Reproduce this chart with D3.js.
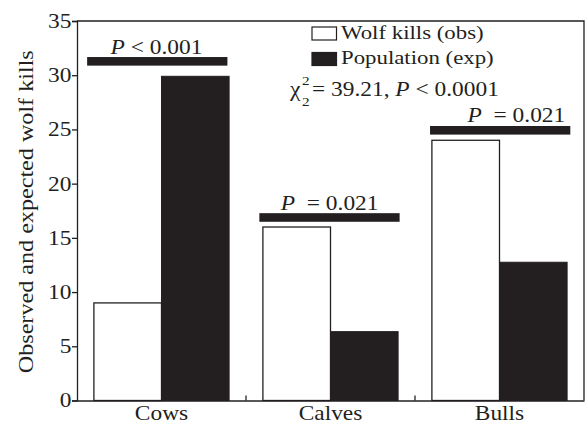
<!DOCTYPE html>
<html>
<head>
<meta charset="utf-8">
<script src="https://cdn.jsdelivr.net/npm/d3@7"></script>
<style>
  html, body { margin: 0; padding: 0; background: #fff; }
  svg { display: block; font-family: "Liberation Serif", "DejaVu Serif", serif; }
</style>
</head>
<body>
<svg id="chart" width="585" height="425"></svg>
<script>
// Prey classes and the two series
const categories = ["Cows", "Calves", "Bulls"];
const seriesNames = ["Wolf kills (obs)", "Population (exp)"];
const observed = [9, 16, 24];
const expected = [29.9, 6.35, 12.75];
const yTicks = [0, 5, 10, 15, 20, 25, 30, 35];
// Significance bars above each class: height (data units) and label
const sigLevels = [31.28, 16.88, 24.92];
const sigLabels = [" < 0.001", "  = 0.021", "  = 0.021"];

// Layout of the significance bars within each band (fractions of band width)
const sigStart = [0.06, 0.079, 0.089];
const sigTextCenter = [0.47, 0.495, 0.6];

const ink = "#231f20";
const wide = 1.17;   // horizontal stretch of the serif lettering
const svg = d3.select("#chart");
const margin = { left: 77, right: 1, top: 21, bottom: 24.5 };
const W = 585, H = 425;

const x0 = d3.scaleBand().domain(categories)
  .range([margin.left, W - margin.right]).padding(0);
const x1 = d3.scaleBand().domain(seriesNames)
  .range([x0.bandwidth() * 0.1, x0.bandwidth() * 0.9]).padding(0);
const y = d3.scaleLinear().domain([0, 35]).range([H - margin.bottom, margin.top]);

// Stretched text placed at (x, y)
function label(parent, x, yy, size, anchor) {
  return parent.append("text")
    .attr("transform", `translate(${x},${yy}) scale(${wide},1)`)
    .attr("text-anchor", anchor || "start")
    .attr("font-size", size).attr("fill", ink);
}

// Frame: top and right edges
svg.append("path")
  .attr("d", `M${margin.left},${margin.top}H${W - margin.right}V${H - margin.bottom}`)
  .attr("fill", "none").attr("stroke", ink).attr("stroke-width", 1.3);

// Bars
const groups = svg.selectAll("g.cat").data(categories).join("g")
  .attr("class", "cat")
  .attr("transform", d => `translate(${x0(d)},0)`);

groups.append("rect")
  .attr("x", x1(seriesNames[0]))
  .attr("y", (d, i) => y(observed[i]))
  .attr("width", x1.bandwidth())
  .attr("height", (d, i) => y(0) - y(observed[i]))
  .attr("fill", "#fff").attr("stroke", ink).attr("stroke-width", 1.3);

groups.append("rect")
  .attr("x", x1(seriesNames[1]))
  .attr("y", (d, i) => y(expected[i]))
  .attr("width", x1.bandwidth())
  .attr("height", (d, i) => y(0) - y(expected[i]))
  .attr("fill", ink).attr("stroke", ink).attr("stroke-width", 1);

// Y axis
const yAxis = svg.append("g")
  .attr("transform", `translate(${margin.left},0)`)
  .call(d3.axisLeft(y).tickValues(yTicks).tickSize(5).tickPadding(0));
yAxis.select(".domain").attr("stroke", ink).attr("stroke-width", 1.3);
yAxis.selectAll(".tick line").attr("stroke", ink).attr("stroke-width", 1.3);
yAxis.selectAll(".tick text")
  .attr("x", null)
  .attr("transform", `translate(-5.5,0) scale(${wide},1)`)
  .attr("font-size", 20).attr("fill", ink)
  .attr("font-family", "Liberation Serif, serif");

// X axis
const xAxis = svg.append("g")
  .attr("transform", `translate(0,${y(0)})`)
  .call(d3.axisBottom(x0).tickSize(0).tickFormat(""));
xAxis.select(".domain").attr("stroke", ink).attr("stroke-width", 1.3);
categories.forEach(c => {
  label(svg, x0(c) + x0.bandwidth() / 2, 419.5, 20, "middle").text(c);
});
// Small inward ticks between classes
svg.selectAll("line.sep").data(categories.slice(1)).join("line")
  .attr("class", "sep")
  .attr("x1", d => x0(d)).attr("x2", d => x0(d))
  .attr("y1", y(0)).attr("y2", y(0) - 5)
  .attr("stroke", ink).attr("stroke-width", 1.3);

// Y axis title
svg.append("text")
  .attr("transform", `translate(32.5,${(margin.top + y(0)) / 2 + 1}) rotate(-90) scale(1.15,1)`)
  .attr("text-anchor", "middle")
  .attr("font-size", 21).attr("fill", ink)
  .text("Observed and expected wolf kills");

// Significance bars and labels
categories.forEach((c, i) => {
  const top = y(sigLevels[i]) - 4.3;
  svg.append("rect")
    .attr("x", x0(c) + x0.bandwidth() * sigStart[i])
    .attr("width", x0.bandwidth() * 0.83)
    .attr("y", top)
    .attr("height", 8.6)
    .attr("fill", ink);
  const t = label(svg, x0(c) + x0.bandwidth() * sigTextCenter[i], top - 3.5, 20, "middle");
  t.append("tspan").attr("font-style", "italic").text("P");
  t.append("tspan").attr("xml:space", "preserve").text(sigLabels[i]);
});

// Legend
const leg = svg.append("g").attr("transform", "translate(312,26.5)");
seriesNames.forEach((name, i) => {
  const g = leg.append("g").attr("transform", `translate(0,${i * 25.5})`);
  g.append("rect").attr("x", 0).attr("y", 0.5).attr("width", 24.5).attr("height", 13)
    .attr("fill", i === 0 ? "#fff" : ink).attr("stroke", ink).attr("stroke-width", 1.2);
  label(g, 29, 12, 19.5).text(name);
});

// Chi-square statistic
const chiX = label(svg, 290, 96, 20);
chiX.text("χ");
label(svg, 302, 85, 13).text("2");
label(svg, 302, 105.5, 13).text("2");
const chi = label(svg, 312, 96, 20);
chi.append("tspan").text("= 39.21, ");
chi.append("tspan").attr("font-style", "italic").text("P");
chi.append("tspan").text(" < 0.0001");
</script>
</body>
</html>
